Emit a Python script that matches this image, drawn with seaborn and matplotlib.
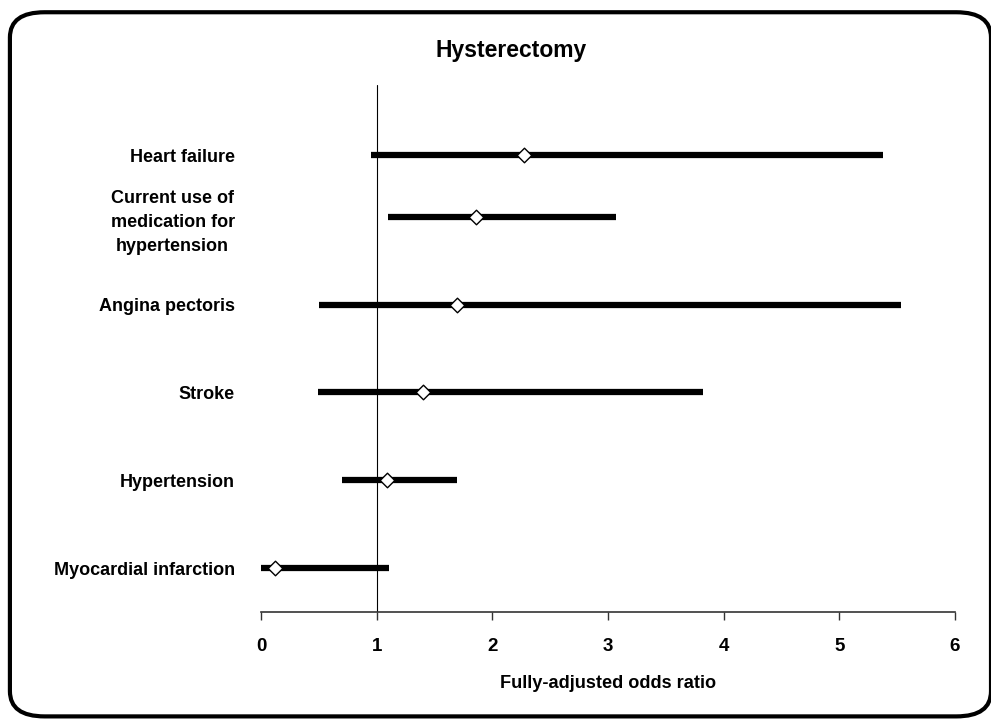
import matplotlib
matplotlib.use("Agg")
import matplotlib.pyplot as plt
from matplotlib.patches import FancyBboxPatch
import pandas as pd
import seaborn as sns

# Values
outcomes = ["Heart failure", "Current use of\nmedication for\nhypertension",
            "Angina pectoris", "Stroke", "Hypertension", "Myocardial infarction"]
y_pos = [5.2, 4.5, 3.5, 2.5, 1.5, 0.5]
odds_ratio = [2.27, 1.86, 1.69, 1.40, 1.09, 0.12]
ci_low = [0.95, 1.10, 0.50, 0.49, 0.70, 0.00]
ci_high = [5.38, 3.07, 5.53, 3.82, 1.69, 1.11]
x_ticks = [0, 1, 2, 3, 4, 5, 6]

df = pd.DataFrame({"outcome": outcomes, "y": y_pos, "or": odds_ratio,
                   "lo": ci_low, "hi": ci_high})

sns.set_theme(style="white")
plt.rcParams["font.family"] = ["Liberation Sans", "DejaVu Sans"]
plt.rcParams["text.color"] = "black"
plt.rcParams["axes.labelcolor"] = "black"

fig = plt.figure(figsize=(9.91, 7.2), dpi=100)
ax = fig.add_axes([0.2634, 0.15, 0.7003, 0.732])

# reference line at OR = 1
ax.axvline(1, color="black", linewidth=0.8, zorder=1)

# confidence intervals
ax.hlines(df["y"], df["lo"], df["hi"], color="black", linewidth=4.5, zorder=2)

# point estimates
sns.scatterplot(data=df, x="or", y="y", marker="D", s=55, color="white",
                edgecolor="black", linewidth=1.0, zorder=3, ax=ax, legend=False)

ax.set_xlim(0, 6)
ax.set_ylim(0, 6)
ax.set_xticks(x_ticks)
ax.set_xticklabels([str(t) for t in x_ticks], fontsize=13.5, fontweight="bold",
                   color="black")
ax.set_yticks(df["y"])
ax.set_yticklabels(df["outcome"], fontsize=13.0, fontweight="bold",
                   color="black", multialignment="center", linespacing=1.55)
ax.tick_params(axis="x", bottom=True, direction="out", length=6, width=1,
               colors="#333333", pad=13, labelcolor="black")
ax.tick_params(axis="y", left=False, length=0, pad=19)
ax.set_xlabel("Fully-adjusted odds ratio", fontsize=13.1, fontweight="bold",
              labelpad=14)
ax.set_ylabel("")

for side in ["top", "right", "left"]:
    ax.spines[side].set_visible(False)
ax.spines["bottom"].set_color("#333333")
ax.spines["bottom"].set_linewidth(1.2)

fig.text(0.516, 0.93, "Hysterectomy", ha="center", va="center",
         fontsize=16.5, fontweight="bold")

# rounded frame around the chart
frame = FancyBboxPatch((0.010, 0.005), 0.990, 0.978,
                       boxstyle="round,pad=0,rounding_size=0.035",
                       transform=fig.transFigure, fill=False,
                       edgecolor="black", linewidth=3, zorder=10)
fig.patches.append(frame)

fig.savefig("out.png", dpi=100)
